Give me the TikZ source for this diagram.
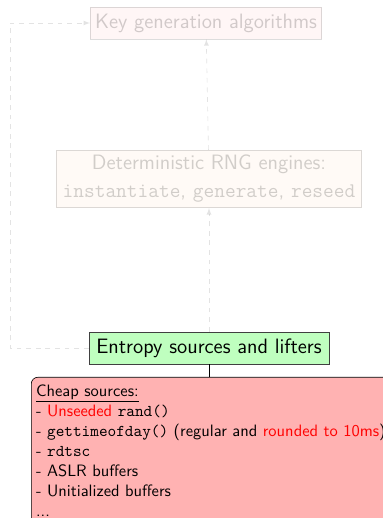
\documentclass[tikz,border=0pt]{standalone}
\usepackage{tikz}
\usetikzlibrary{arrows}
\begin{document}
\begin{tikzpicture}
	[x=0.625pt,y=0.625pt,
	 box/.style= {draw=black!75,font=\fontsize{13}{17.5}\selectfont\sffamily,inner sep=3pt},
	 faded/.style= {opacity=0.18},
	 link/.style= {-latex,dashed,draw=black!60,faded}]

	\useasboundingbox (0,0) rectangle (383,518);

	\node[box,faded,fill=red!20,minimum width=144pt,minimum height=20pt] (kg) at (206,495) {Key generation algorithms};

	\node[box,faded,fill=orange!20,minimum width=191pt,minimum height=36pt,align=center] (drng) at (209,339)
		{Deterministic RNG engines:\\ \texttt{instantiate}, \texttt{generate}, \texttt{reseed}};

	\node[box,fill=green!25,minimum width=150pt,minimum height=20pt] (ent) at (209,170) {Entropy sources and lifters};

	\node[draw=black,fill=red!30,rounded corners=4pt,anchor=north west,align=left,
		font=\fontsize{10.3}{12.5}\selectfont\sffamily,inner xsep=3pt,inner ysep=4.5pt,text width=245pt] (cheap) at (31,141)
		{\underline{Cheap sources:}\\
		 - \textcolor{red}{Unseeded} \texttt{rand()}\\
		 - \texttt{gettimeofday()} (regular and \textcolor{red}{rounded to 10ms})\\
		 - \texttt{rdtsc}\\
		 - ASLR buffers\\
		 - Unitialized buffers\\
		 ...\rule[-10pt]{0pt}{10pt}};

	\draw[link] (ent) -- (drng);
	\draw[link] (drng) -- (kg);
	\draw[link] (ent.west) -- (10,170) |- (kg.west);
	\draw (ent) -- (cheap.north -| ent);

\end{tikzpicture}
\end{document}
